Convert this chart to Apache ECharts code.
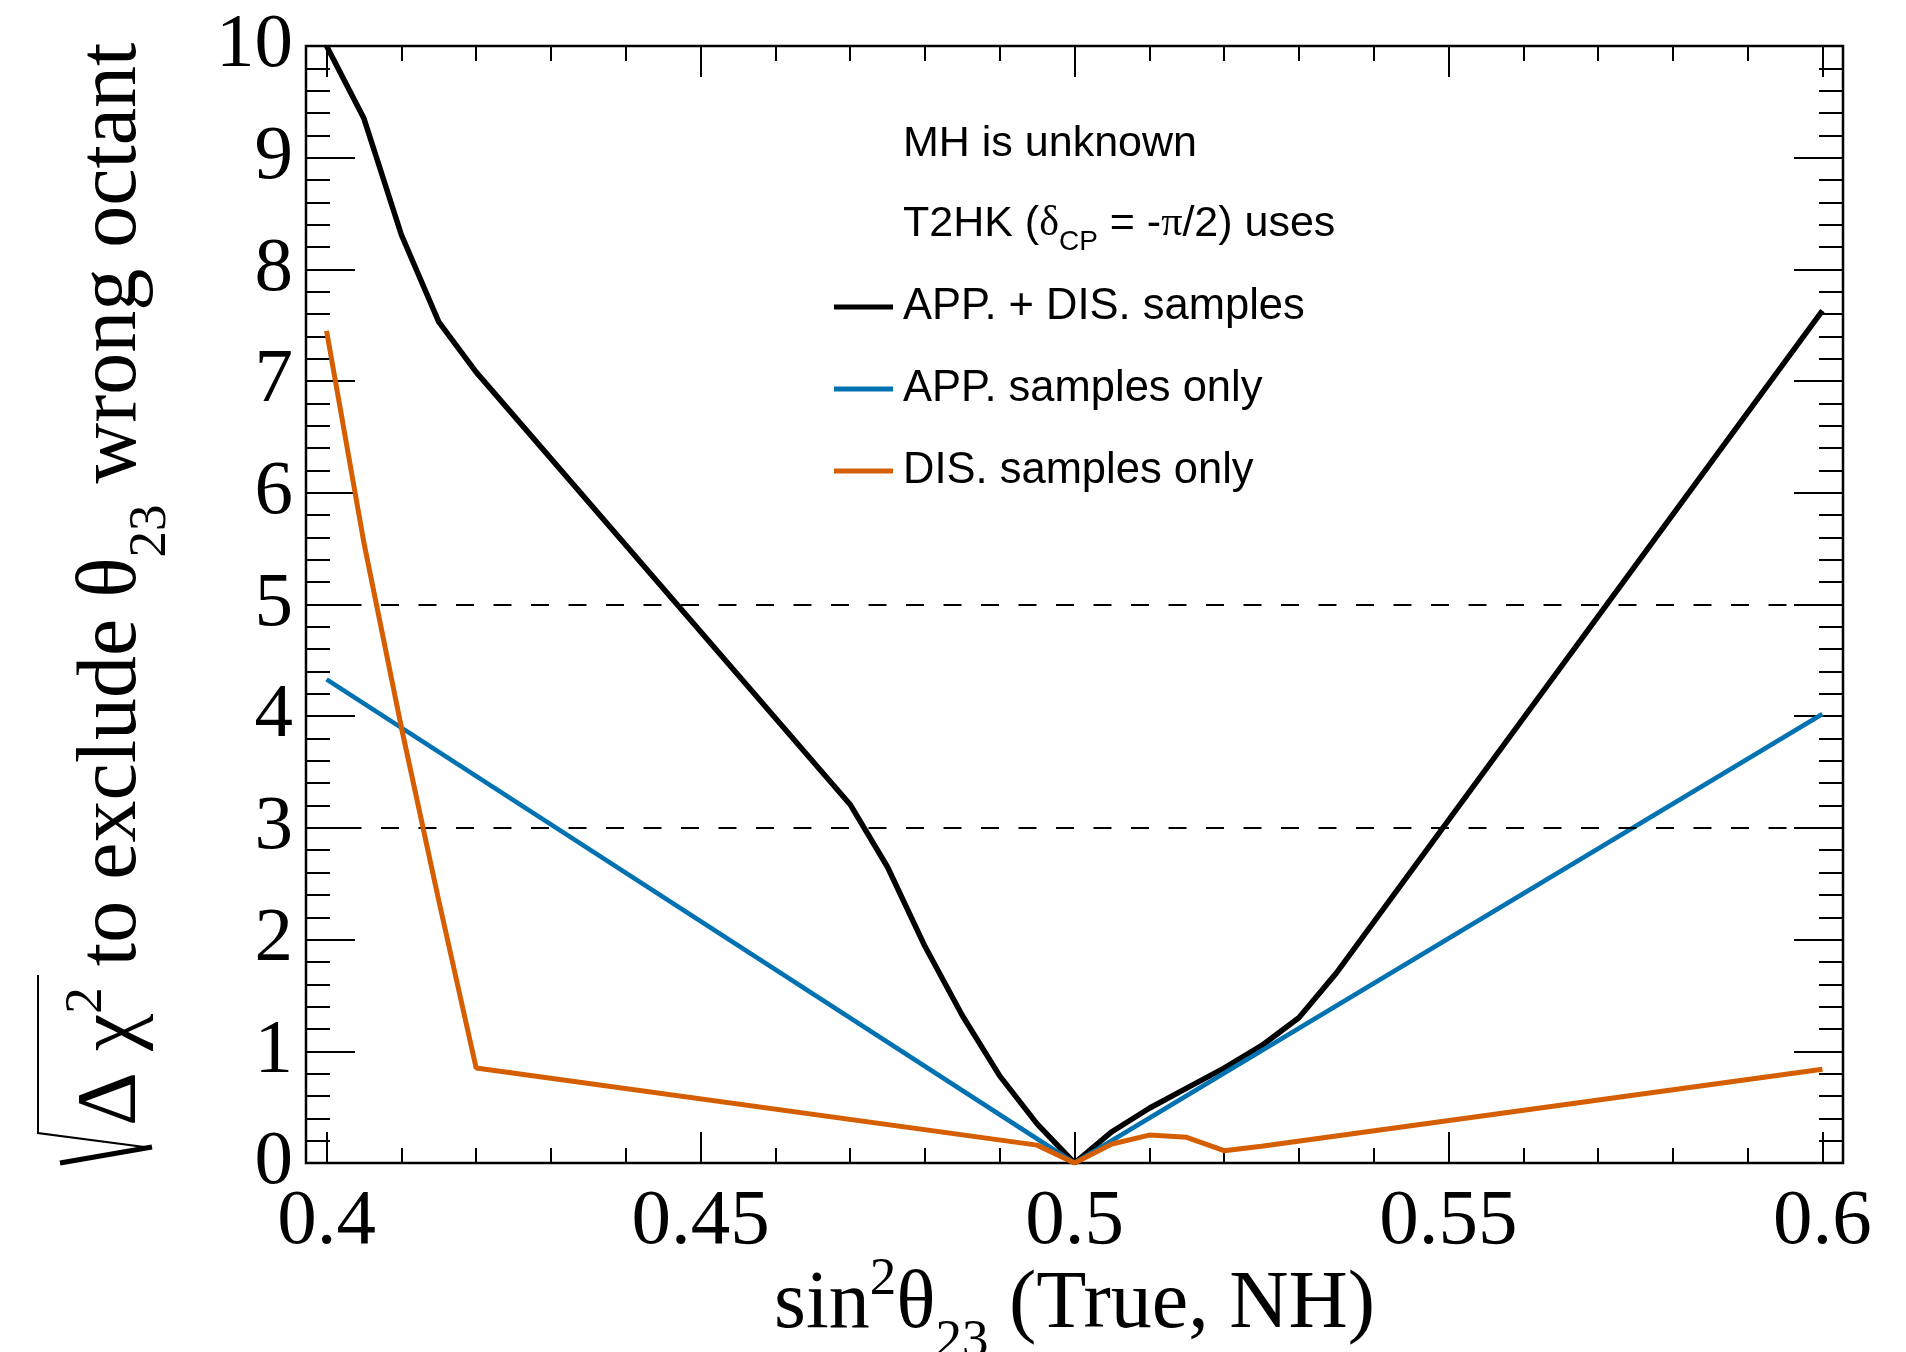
<!DOCTYPE html>
<html>
<head>
<meta charset="utf-8">
<script src="https://cdn.jsdelivr.net/npm/echarts@6/dist/echarts.min.js"></script>
<style>
  html, body { margin: 0; padding: 0; background: #fff; }
  #chart { width: 1906px; height: 1352px; }
</style>
</head>
<body>
<div id="chart"></div>
<script>
// sqrt(dchi2) to exclude the wrong octant vs true sin^2(theta23)
const xBoth = [0.400, 0.405, 0.410, 0.415, 0.420, 0.470, 0.475, 0.480, 0.485, 0.490, 0.495, 0.500,
               0.505, 0.510, 0.515, 0.520, 0.525, 0.530, 0.535, 0.600];
const yBoth = [10.0, 9.35, 8.31, 7.53, 7.08, 3.21, 2.65, 1.94, 1.32, 0.78, 0.35, 0.0,
               0.28, 0.49, 0.67, 0.85, 1.05, 1.30, 1.70, 7.63];
const xApp = [0.400, 0.500, 0.600];
const yApp = [4.33, 0.0, 4.02];
const xDis = [0.400, 0.405, 0.410, 0.415, 0.420, 0.495, 0.500, 0.505, 0.510, 0.515, 0.520, 0.525, 0.600];
const yDis = [7.45, 5.55, 3.90, 2.35, 0.85, 0.16, 0.0, 0.17, 0.25, 0.23, 0.11, 0.15, 0.84];

const seriesNames = ['APP. + DIS. samples', 'APP. samples only', 'DIS. samples only'];
const seriesColors = ['#000000', '#0072b2', '#d55e00'];
const thresholds = [3, 5];          // dashed reference lines
const xRange = [0.39725, 0.60275];  // frame edges
const xTickRange = [0.4, 0.6];
const xTickStep = 0.05;
const yRange = [0, 10];
const yTickStep = 1;

const serif = 'Liberation Serif';
const sans = 'Liberation Sans';
const pairs = (xs, ys) => xs.map((x, i) => [x, ys[i]]);

const chart = echarts.init(document.getElementById('chart'));

const tickLine = { color: '#000', width: 2 };

// frame grid in px
const G = { left: 306, right: 63, top: 46, bottom: 189 };
const pxPerUnit = (1906 - G.left - G.right) / (xRange[1] - xRange[0]);
const tickLeft = G.left + (xTickRange[0] - xRange[0]) * pxPerUnit;
const tickRight = 1906 - (G.left + (xTickRange[1] - xRange[0]) * pxPerUnit);

const xTickAxis = (pos) => ({
    gridIndex: 1,
    type: 'value',
    position: pos,
    min: xTickRange[0],
    max: xTickRange[1],
    interval: xTickStep,
    axisLine: { show: false },
    axisTick: { show: true, inside: true, length: 31, lineStyle: tickLine },
    minorTick: { show: true, splitNumber: 5, length: 15, lineStyle: tickLine },
    splitLine: { show: false },
    axisLabel: pos === 'bottom'
        ? { margin: 20, fontFamily: serif, fontSize: 79, color: '#000' }
        : { show: false }
});

const yTickAxis = (pos) => ({
    gridIndex: 0,
    type: 'value',
    position: pos,
    min: yRange[0],
    max: yRange[1],
    interval: yTickStep,
    axisLine: { show: false },
    axisTick: { show: true, inside: true, length: 49, lineStyle: tickLine },
    minorTick: { show: true, splitNumber: 5, length: 24, lineStyle: tickLine },
    splitLine: { show: false },
    axisLabel: pos === 'left'
        ? { margin: 13, fontFamily: serif, fontSize: 77, color: '#000' }
        : { show: false }
});

const lineSeries = (i, xs, ys, width) => ({
    name: seriesNames[i],
    type: 'line',
    xAxisIndex: 0,
    yAxisIndex: 0,
    data: pairs(xs, ys),
    showSymbol: false,
    symbol: 'none',
    clip: false,
    color: seriesColors[i],
    lineStyle: { color: seriesColors[i], width: width },
    z: 3 + i
});

const black = lineSeries(0, xBoth, yBoth, 5.5);
black.markLine = {
    silent: true,
    symbol: ['none', 'none'],
    label: { show: false },
    lineStyle: { color: '#000', width: 2, type: [18, 19.5] },
    data: thresholds.map(v => ({ yAxis: v }))
};

const subSup = (size, raise) => raise > 0
    ? { fontFamily: serif, fontSize: size, fill: '#000', padding: [0, 0, raise * 2, 0] }
    : { fontFamily: serif, fontSize: size, fill: '#000', padding: [-raise * 2, 0, 0, 0] };

const option = {
    backgroundColor: '#ffffff',
    animation: false,
    grid: [
        { left: G.left, right: G.right, top: G.top, bottom: G.bottom, show: true,
          borderColor: '#000', borderWidth: 2.5, backgroundColor: 'transparent' },
        { left: tickLeft, right: tickRight, top: G.top, bottom: G.bottom }
    ],
    xAxis: [
        { gridIndex: 0, type: 'value', min: xRange[0], max: xRange[1], show: false },
        xTickAxis('bottom'),
        xTickAxis('top')
    ],
    yAxis: [
        yTickAxis('left'),
        yTickAxis('right'),
        { gridIndex: 1, type: 'value', min: yRange[0], max: yRange[1], show: false }
    ],
    legend: {
        orient: 'vertical',
        left: 834,
        top: 285,
        padding: 0,
        itemGap: 38,
        itemWidth: 59,
        itemHeight: 5,
        icon: 'rect',
        selectedMode: false,
        data: seriesNames,
        textStyle: { fontFamily: sans, fontSize: 43.5, color: '#000', padding: [0, 0, 0, 5] }
    },
    series: [
        black,
        lineSeries(1, xApp, yApp, 4.6),
        lineSeries(2, xDis, yDis, 5)
    ],
    graphic: [
        {
            type: 'text', x: 903, y: 144,
            style: { text: 'MH is unknown', fontFamily: sans, fontSize: 43, fill: '#000',
                     verticalAlign: 'middle' }
        },
        {
            type: 'text', x: 903, y: 224,
            style: {
                text: 'T2HK ({g|δ}{sub|CP} = -{g|π}/2) uses',
                fontFamily: sans, fontSize: 43, fill: '#000', verticalAlign: 'middle',
                rich: {
                    g: { fontFamily: serif, fontSize: 42, fill: '#000' },
                    sub: { fontFamily: sans, fontSize: 28, fill: '#000', padding: [36, 0, 0, 0] }
                }
            }
        },
        // x axis title
        {
            type: 'text', x: (G.left + 1906 - G.right) / 2, y: 1305,
            style: {
                text: 'sin{sup|2}θ{sub|23} (True, NH)',
                fontFamily: serif, fontSize: 82, fill: '#000',
                align: 'center', verticalAlign: 'middle',
                rich: { sup: subSup(53, 25), sub: subSup(53, -37) }
            }
        },
        // y axis title, rotated
        {
            type: 'text', x: 113, y: 1126, rotation: Math.PI / 2,
            style: {
                text: 'Δ χ{sup|2} to exclude θ{sub|23} wrong octant',
                fontFamily: serif, fontSize: 84, fill: '#000',
                align: 'left', verticalAlign: 'middle',
                rich: { sup: subSup(53, 26), sub: subSup(53, -38) }
            }
        },
        // radical sign over the delta chi part
        {
            type: 'polyline',
            shape: { points: [[38, 975], [38, 1133], [152, 1148]] },
            style: { stroke: '#000', lineWidth: 2, fill: null }
        },
        {
            type: 'line',
            shape: { x1: 152, y1: 1147, x2: 60, y2: 1163 },
            style: { stroke: '#000', lineWidth: 5 }
        }
    ]
};

chart.setOption(option);
</script>
</body>
</html>
